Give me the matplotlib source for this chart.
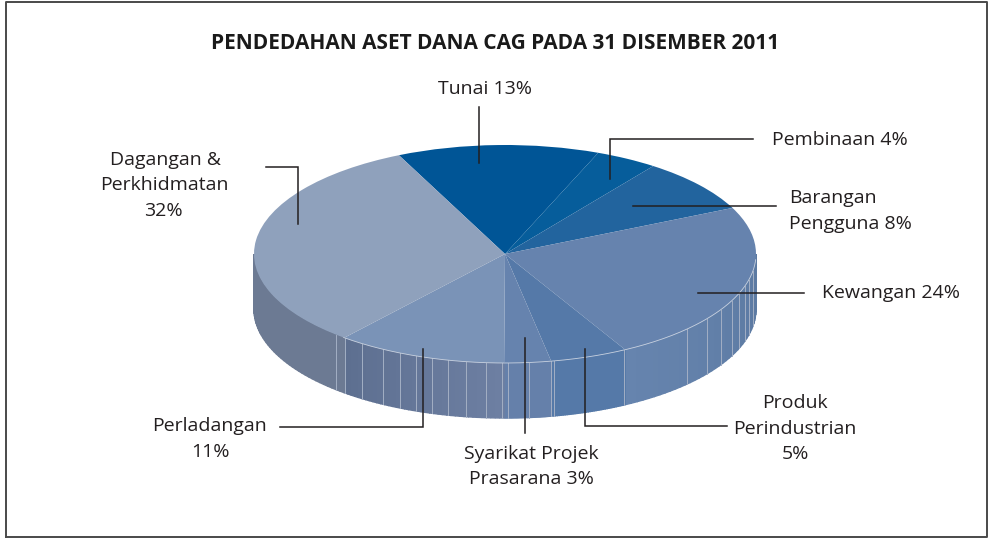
import numpy as np
import matplotlib
matplotlib.use('Agg')
import matplotlib.pyplot as plt
from matplotlib.colors import to_rgb

plt.rcParams['font.family'] = ['Open Sans', 'DejaVu Sans']

title = 'PENDEDAHAN ASET DANA CAG PADA 31 DISEMBER 2011'
sectors = ['Tunai', 'Pembinaan', 'Barangan Pengguna', 'Kewangan', 'Produk Perindustrian',
           'Syarikat Projek Prasarana', 'Perladangan', 'Dagangan & Perkhidmatan']
shares = [13, 4, 8, 24, 5, 3, 11, 32]
top_colors = ['#005596', '#065d9b', '#22649e', '#6683ae', '#5579a8', '#6683ae', '#7a93b7', '#8fa1bc']
wall_left = ['#005596', '#065d9b', '#22649e', '#6684ae', '#5579a8', '#6580aa', '#5d6f90', '#6c7a93']
wall_right = ['#005596', '#065d9b', '#22649e', '#5c7aa2', '#5579a8', '#6580aa', '#6d7fa2', '#6c7a93']
seam_px = [336, 345, 362, 383, 400, 416, 432, 448, 466, 486, 502, 508, 529, 551, 554,
           624, 687, 707, 721, 732, 739, 745, 749, 753]

W, H = 989, 538
cx, cy, rx, ry, depth = 505, 254, 251, 109, 55
start = 115

fig = plt.figure(figsize=(W / 100, H / 100), dpi=100)

# pixel overlay for frame, labels and leader lines
bg = fig.add_axes([0, 0, 1, 1], zorder=3)
bg.set_xlim(0, W)
bg.set_ylim(H, 0)
bg.axis('off')

ax = fig.add_axes([(cx - rx) / W, 1 - (cy + ry) / H, 2 * rx / W, 2 * ry / H], zorder=2)
ax.pie(shares, colors=top_colors, startangle=start, counterclock=False, radius=1,
       wedgeprops={'linewidth': 0.3, 'edgecolor': 'none'})
ax.set_aspect('auto')
ax.set_xlim(-1, 1)
ax.set_ylim(-1, 1)
d = depth / ry

# side wall, one slice at a time
edges = start - np.cumsum([0] + shares) * 3.6
for i in range(len(shares)):
    hi = min(edges[i], 0)
    lo = max(edges[i + 1], -180)
    if hi <= lo:
        continue
    c0 = np.array(to_rgb(wall_left[i]))
    c1 = np.array(to_rgb(wall_right[i]))
    ts = np.linspace(lo, hi, 40)
    for j in range(len(ts) - 1):
        t = np.radians(ts[j:j + 2])
        xs = np.cos(t)
        ys = np.sin(t)
        col = c0 + (c1 - c0) * j / (len(ts) - 2)
        ax.fill(np.r_[xs, xs[::-1]], np.r_[ys, ys[::-1] - d], facecolor=col, edgecolor=col, lw=1.0,
                clip_on=False, zorder=-1)

# light seams on the wall
for px in seam_px:
    x = (px - cx) / rx
    y = -np.sqrt(1 - x * x)
    ax.plot([x, x], [y, y - d], color='#a3afc4', lw=0.7, clip_on=False, zorder=0)

t = np.radians(np.linspace(-130, -3, 200))
ax.plot(np.cos(t), np.sin(t), color='#c9d2e0', lw=0.6, clip_on=False, zorder=1)

# frame
bg.plot([5.5, 5.5, 986.5, 986.5, 5.5], [537, 1.5, 1.5, 537, 537], color='#4a4a4a', lw=1.4, clip_on=False)

bg.text(495.5, 43.5, title, ha='center', va='center', fontsize=15, fontweight='bold', color='#1a1a1a')

leaders = [
    ([479, 479], [107, 163]),
    ([610, 610, 753], [179, 139, 139]),
    ([633, 776], [205.5, 205.5]),
    ([698, 804], [292.5, 292.5]),
    ([585, 585, 727], [349, 426, 426]),
    ([524.5, 524.5], [338, 433]),
    ([423, 423, 280], [349, 426.5, 426.5]),
    ([266, 298, 298], [167, 167, 224]),
]
for xs, ys in leaders:
    bg.plot(xs, ys, color='#231f20', lw=1.1, solid_joinstyle='miter')

labels = [
    (485, 89, 'Tunai 13%', 'center'),
    (840, 140, 'Pembinaan 4%', 'center'),
    (789, 198, 'Barangan', 'left'),
    (789, 224, 'Pengguna 8%', 'left'),
    (891, 293, 'Kewangan 24%', 'center'),
    (795, 403, 'Produk', 'center'),
    (795, 429, 'Perindustrian', 'center'),
    (795, 454, '5%', 'center'),
    (531, 454, 'Syarikat Projek', 'center'),
    (531, 479, 'Prasarana 3%', 'center'),
    (210, 426, 'Perladangan', 'center'),
    (210, 452, '11%', 'center'),
    (166, 160, 'Dagangan &', 'center'),
    (164, 185, 'Perkhidmatan', 'center'),
    (163, 211, '32%', 'center'),
]
for x, y, s, ha in labels:
    bg.text(x, y, s, ha=ha, va='center', fontsize=14, color='#231f20')

fig.savefig('out.png', dpi=100)
